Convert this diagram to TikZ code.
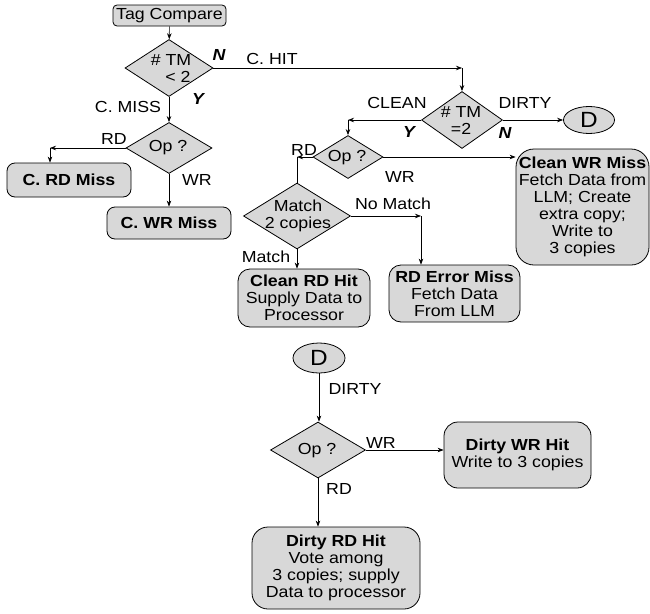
\documentclass[tikz,border=0pt]{standalone}
\usepackage{fontspec}
\setmainfont[FakeStretch=1.11]{Liberation Sans}
\usetikzlibrary{shapes.geometric,arrows.meta}
\definecolor{boxfill}{RGB}{216,216,216}
\tikzset{
 every node/.style={font=\fontsize{16}{17}\selectfont},
 box/.style={draw, fill=boxfill, rounded corners=8pt, align=center, inner sep=0pt, line width=0.8pt},
 dia/.style={draw, fill=boxfill, diamond, inner sep=0pt, line width=0.8pt},
 term/.style={draw, fill=boxfill, ellipse, inner sep=0pt, line width=0.8pt},
 conn/.style={line width=0.7pt, -{Stealth[length=6pt,width=4.5pt]}},
 plain/.style={line width=0.7pt},
 lab/.style={inner sep=0pt},
 dtext/.style={inner sep=0pt, align=center},
 yn/.style={font=\fontsize{16}{17}\selectfont\bfseries\itshape, inner sep=0pt},
}
\begin{document}
\begin{tikzpicture}[x=1pt,y=-1pt]
\useasboundingbox (0,0) rectangle (650,613);
% upper left part
\node[box, minimum width=113pt, minimum height=21pt, rounded corners=4pt] (tag) at (169.5,15.5) {Tag Compare};
\node[dia, minimum width=88pt, minimum height=57pt] (d1) at (169,68) {};
\node[dtext] (d1t) at (171,68) {\# TM\\\hspace*{14pt}< 2};
\node[dia, minimum width=86pt, minimum height=51pt] (op1) at (169,148) {};
\node[dtext] (op1t) at (168,148) {Op ?};
\node[box, minimum width=124pt, minimum height=34pt] (crd) at (69,180) {\bfseries C. RD Miss};
\node[box, minimum width=124pt, minimum height=32pt] (cwr) at (169,223) {\bfseries C. WR Miss};
% upper right part
\node[dia, minimum width=81pt, minimum height=57pt] (d2) at (462,120) {};
\node[dtext] (d2t) at (461,120) {\# TM\\=2};
\node[term, minimum width=51pt, minimum height=27pt] (dc) at (589,120) {\fontsize{22}{22}\selectfont D};
\node[dia, minimum width=70pt, minimum height=43pt] (op2) at (348,157) {};
\node[dtext] (op2t) at (347,158) {Op ?};
\node[box, minimum width=133pt, minimum height=116pt, rounded corners=18pt] (cwm) at (582.5,207) {\textbf{Clean WR Miss}\\Fetch Data from\\LLM; Create\\extra copy;\\Write to\\3 copies};
\node[dia, minimum width=107pt, minimum height=66pt] (match) at (297,216) {};
\node[dtext] (matcht) at (298,216) {Match\\2 copies};
\node[box, minimum width=132pt, minimum height=58pt, rounded corners=12pt] (crh) at (304,298) {\textbf{Clean RD Hit}\\Supply Data to\\Processor};
\node[box, minimum width=131pt, minimum height=57pt, rounded corners=12pt] (rem) at (454.5,293.5) {\textbf{RD Error Miss}\\Fetch Data\\From LLM};
% lower part
\node[term, minimum width=52pt, minimum height=30pt] (dd) at (319,358) {\fontsize{22}{22}\selectfont D};
\node[dia, minimum width=95pt, minimum height=56pt] (op3) at (318,450) {};
\node[dtext] (op3t) at (317,451) {Op ?};
\node[box, minimum width=147pt, minimum height=66pt, rounded corners=14pt] (dwh) at (517.5,455) {\textbf{Dirty WR Hit}\\Write to 3 copies};
\node[box, minimum width=168pt, minimum height=82pt, rounded corners=16pt] (drh) at (336,568) {\textbf{Dirty RD Hit}\\Vote among\\3 copies; supply\\Data to processor};
% connectors
\draw[conn] (tag) -- (d1);
\coordinate (c1) at (d2.north |- d1.east);
\draw[conn] (d1.east) -- (c1);
\draw[conn] (c1) -- (d2.north);
\draw[conn] (d1.south) -- (op1.north);
\coordinate (c2) at (50,0 |- op1.west);
\draw[conn] (op1.west) -- (c2);
\draw[conn] (c2) -- (c2 |- crd.north);
\draw[conn] (op1.south) -- (cwr.north);
\coordinate (c3) at (op2.north |- d2.west);
\draw[conn] (d2.west) -- (c3);
\draw[conn] (c3) -- (op2.north);
\draw[conn] (d2.east) -- (dc.west);
\coordinate (c4) at (match.north |- op2.west);
\draw[conn] (op2.west) -- (c4);
\draw[plain] (c4) -- (match.north);
\draw[conn] (op2.east) -- (op2.east -| cwm.west);
\coordinate (c5) at (421,0 |- match.east);
\draw[conn] (match.east) -- (c5);
\draw[conn] (c5) -- (c5 |- rem.north);
\draw[conn] (match.south) -- (match.south |- crh.north);
\draw[conn] (dd.south |- dd.south) -- (dd.south |- op3.north);
\draw[conn] (op3.east) -- (op3.east -| dwh.west);
\draw[conn] (op3.south) -- (op3.south |- drh.north);
% labels
\node[yn] (n1) at (219,55) {N};
\node[lab] (lhit) at (272,59) {C. HIT};
\node[yn] (y1) at (198,99) {Y};
\node[lab] (lmiss) at (128,107) {C. MISS};
\node[lab] (lrd1) at (114,139) {RD};
\node[lab] (lwr1) at (197,180) {WR};
\node[lab] (lclean) at (397,103) {CLEAN};
\node[lab] (ldirty1) at (525,103) {DIRTY};
\node[yn] (y2) at (409,132) {Y};
\node[yn] (n2) at (505,133) {N};
\node[lab] (lrd2) at (304,150) {RD};
\node[lab] (lwr2) at (400,177) {WR};
\node[lab] (lnom) at (393,204) {No Match};
\node[lab] (lmat) at (266,257) {Match};
\node[lab] (ldirty2) at (355,389) {DIRTY};
\node[lab] (lwr3) at (381,443) {WR};
\node[lab] (lrd3) at (339,489) {RD};
\end{tikzpicture}
\end{document}
